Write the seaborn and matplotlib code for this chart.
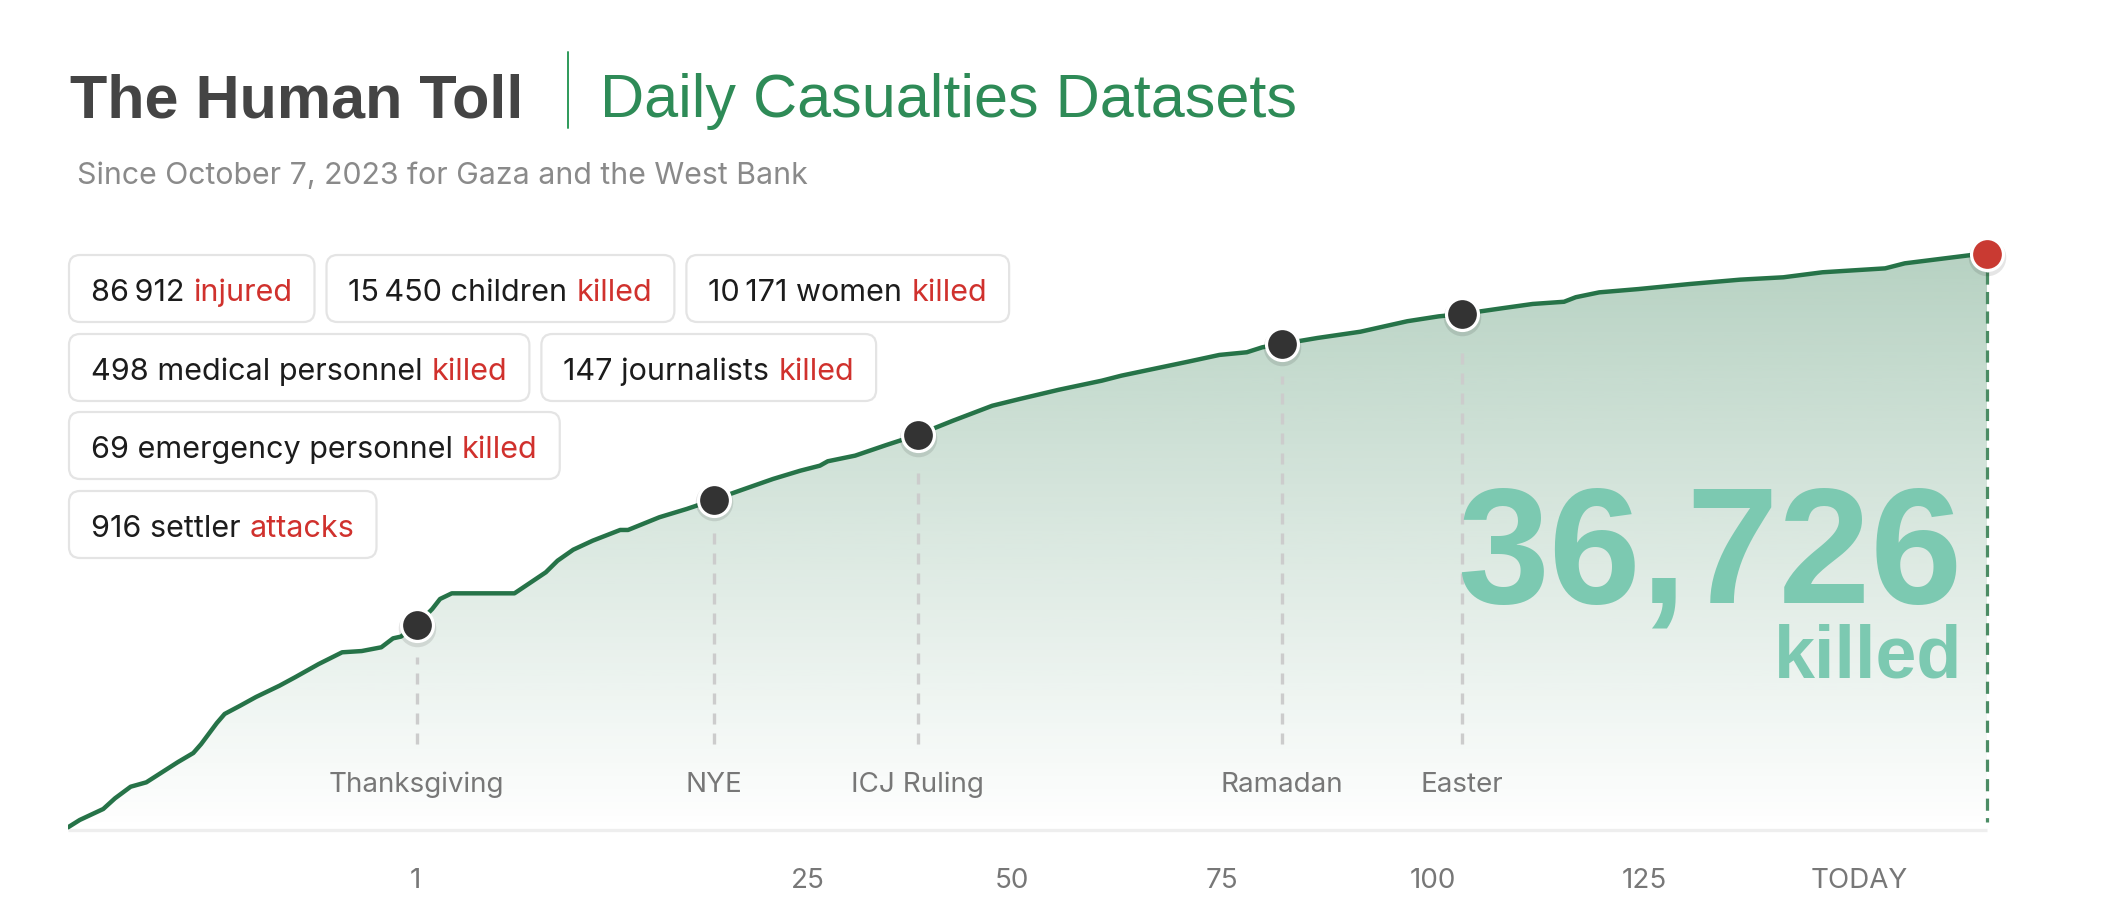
import numpy as np
import matplotlib
matplotlib.use("Agg")
import matplotlib.pyplot as plt
import matplotlib.transforms as mtransforms
from matplotlib.patches import FancyBboxPatch
from matplotlib.lines import Line2D
from matplotlib.colors import to_rgb
import seaborn as sns

# ---------------- data ----------------
days = [0, 1.5, 4.5, 6, 8, 10, 12, 14, 16, 17, 19, 20, 22, 24, 27, 29, 32, 35, 37.5, 40,
        41.5, 42.5, 44.5, 46.5, 47.5, 49, 57, 61, 62.5, 64.5, 67, 70.5, 71.5, 75.5, 79, 82.5,
        86, 90, 93.5, 96, 97, 100.5, 104.5, 108.5, 113, 118, 121.5, 126.5, 132, 134.5, 138.5,
        143, 147, 150.5, 152.5, 155, 159.5, 165, 171, 175, 178, 183, 187, 191, 192.5, 195.5,
        200.5, 207, 213.5, 219, 224, 232, 234.5, 243, 245]
killed = [170, 640, 1340, 2020, 2760, 3040, 3680, 4320, 4910, 5480, 6820, 7400, 7930, 8480,
          9200, 9740, 10580, 11330, 11410, 11650, 12220, 12330, 13070, 14090, 14730, 15090,
          15090, 16430, 17170, 17870, 18450, 19130, 19130, 19940, 20470, 21060, 21680, 22380,
          22910, 23230, 23510, 23870, 24550, 25200, 26100, 27050, 27480, 28070, 28650, 28970,
          29390, 29860, 30290, 30460, 30780, 30990, 31370, 31770, 32440, 32750, 32900, 33260,
          33540, 33680, 33970, 34280, 34490, 34810, 35090, 35240, 35560, 35810, 36130, 36660,
          36726]

event_names = ["Thanksgiving", "NYE", "ICJ Ruling", "Ramadan", "Easter"]
event_days = [44.5, 82.5, 108.5, 155, 178]

tick_days = [44.3, 94.5, 120.5, 147.3, 174.3, 201.3, 228.7]
tick_labels = ["1", "25", "50", "75", "100", "125", "TODAY"]

stat_counts = [86912, 15450, 10171, 498, 147, 69, 916]
stat_nouns = ["", "children", "women", "medical personnel", "journalists",
              "emergency personnel", "settler"]
stat_verbs = ["injured", "killed", "killed", "killed", "killed", "killed", "attacks"]
stat_rows = [0, 0, 0, 1, 1, 2, 3]

title_main = "The Human Toll"
title_sub = "Daily Casualties Datasets"
subtitle = "Since October 7, 2023 for Gaza and the West Bank"

# ---------------- style ----------------
sns.set_theme(style="white")
plt.rcParams["font.family"] = ["Inter", "DejaVu Sans"]

W, H = 2118, 920
fig = plt.figure(figsize=(W / 100, H / 100), dpi=100)
fig.patch.set_facecolor("white")

GREEN_LINE = "#267348"
GREEN_FILL = "#2a7a4c"
MINT = "#7cc9b1"
RED = "#c93a32"
YMAX = 43420

ax = fig.add_axes([68 / W, 89 / H, 1919 / W, 681 / H])
ax.set_facecolor("none")

# gradient fill under curve
grad = np.zeros((256, 1, 4))
grad[:, :, :3] = to_rgb(GREEN_FILL)
grad[:, 0, 3] = np.linspace(0.34, 0.0, 256)
im = ax.imshow(grad, extent=[days[0], days[-1], 0, max(killed)], aspect="auto",
               origin="upper", zorder=1, interpolation="bilinear")
poly = ax.fill_between(days, killed, 0, color="none", lw=0)
im.set_clip_path(poly.get_paths()[0], transform=ax.transData)

# baseline
ax.plot([days[0], days[-1]], [0, 0], color="#eeeeee", lw=2.4, zorder=2,
        solid_capstyle="butt", clip_on=False)

# event dashed lines
ev_y = np.interp(event_days, days, killed)
px = YMAX / 681.0
for d, v, name in zip(event_days, ev_y, event_names):
    ax.plot([d, d], [5483, v - 32 * px], color="#cccccc", lw=2.4,
            linestyle=(0, (3.3, 2.7)), zorder=2)
    ax.text(d, 39 * px, name, ha="center", va="baseline", fontsize=20,
            color="#777777", zorder=6)

# end dashed line
ax.plot([days[-1], days[-1]], [killed[-1] - 18 * px, 8 * px], color="#4b8c64", lw=2.3,
        linestyle=(0, (3.8, 2.3)), zorder=3, clip_on=False)

# big total text
total_str = f"{killed[-1]:,}"
ax.text(1962 / W, 1 - 602 / H, total_str, transform=fig.transFigure, ha="right",
        va="baseline", fontsize=119, fontweight="bold", color=MINT,
        family=["Liberation Sans", "DejaVu Sans"], zorder=4)
ax.text(1962 / W, 1 - 678 / H, "killed", transform=fig.transFigure, ha="right",
        va="baseline", fontsize=53, fontweight="bold", color=MINT,
        family=["Liberation Sans", "DejaVu Sans"], zorder=4)

# main line
sns.lineplot(x=days, y=killed, ax=ax, color=GREEN_LINE, lw=3.2, zorder=5,
             estimator=None, sort=False)
ax.lines[-1].set_solid_capstyle("round")
ax.lines[-1].set_solid_joinstyle("round")

# markers with soft shadow
shadow = mtransforms.offset_copy(ax.transData, fig=fig, x=0, y=-2, units="points")
ax.scatter(event_days, ev_y, s=27 ** 2, color=(0, 0, 0, 0.10), lw=0, zorder=6,
           transform=shadow, clip_on=False)
ax.scatter([days[-1]], [killed[-1]], s=27 ** 2, color=(0, 0, 0, 0.10), lw=0, zorder=6,
           transform=shadow, clip_on=False)
ax.scatter(event_days, ev_y, s=23 ** 2, color="#333333", edgecolors="white",
           linewidths=2.3, zorder=7, clip_on=False)
ax.scatter([days[-1]], [killed[-1]], s=23 ** 2, color=RED, edgecolors="white",
           linewidths=2.3, zorder=7, clip_on=False)

ax.set_xlim(days[0], days[-1])
ax.set_ylim(0, YMAX)
ax.set_xticks(tick_days, tick_labels)
ax.set_yticks([])
ax.tick_params(axis="x", length=0, pad=26.5, labelsize=20, labelcolor="#777777")
for s in ax.spines.values():
    s.set_visible(False)
ax.set_xlabel("")
ax.set_ylabel("")

# ---------------- header ----------------
fig.text(70 / W, 1 - 117 / H, title_main, fontsize=44, fontweight="bold", color="#444444",
         va="baseline", ha="left", family=["Liberation Sans", "DejaVu Sans"])
fig.add_artist(Line2D([568 / W, 568 / W], [1 - 53 / H, 1 - 129 / H],
                      transform=fig.transFigure, color="#2e9a5a", lw=1.4))
fig.text(600 / W, 1 - 117 / H, title_sub, fontsize=44, color="#2e8b57",
         va="baseline", ha="left", family=["Liberation Sans", "DejaVu Sans"])
fig.text(77 / W, 1 - 184 / H, subtitle, fontsize=21.8, color="#8a8a8a",
         va="baseline", ha="left", family=["Inter", "DejaVu Sans"])

# ---------------- stat boxes ----------------
renderer = fig.canvas.get_renderer()
ident = mtransforms.IdentityTransform()
row_tops = [256, 335, 413, 492]
box_h = 67
box_x0 = 69
gap = 12
pad = 22
space = 9
box_font = ["Inter", "DejaVu Sans"]


def fmt_count(n):
    if n >= 10000:
        return f"{n:,}".replace(",", "\u2009")
    return str(n)


row_x = {r: box_x0 for r in set(stat_rows)}
for cnt, noun, verb, r in zip(stat_counts, stat_nouns, stat_verbs, stat_rows):
    top = row_tops[r]
    x = row_x[r]
    black = fmt_count(cnt) + ((" " + noun) if noun else "")
    ybase = H - (top + box_h / 2 + 11.5)
    t1 = fig.text(x + pad, ybase, black, transform=ident, fontsize=22, color="#1c1c1c",
                  va="baseline", ha="left", family=box_font, zorder=11)
    w1 = t1.get_window_extent(renderer).width
    t2 = fig.text(x + pad + w1 + space, ybase, verb, transform=ident, fontsize=22,
                  color="#d0312d", va="baseline", ha="left", family=box_font, zorder=11)
    w2 = t2.get_window_extent(renderer).width
    bw = pad + w1 + space + w2 + pad
    box = FancyBboxPatch((x, H - top - box_h), bw, box_h,
                         boxstyle="round,pad=0,rounding_size=11", transform=ident,
                         facecolor="white", edgecolor="#e4e4e4", lw=1.6, zorder=10)
    fig.add_artist(box)
    row_x[r] = x + bw + gap

fig.savefig("out.png", dpi=100, facecolor="white")
